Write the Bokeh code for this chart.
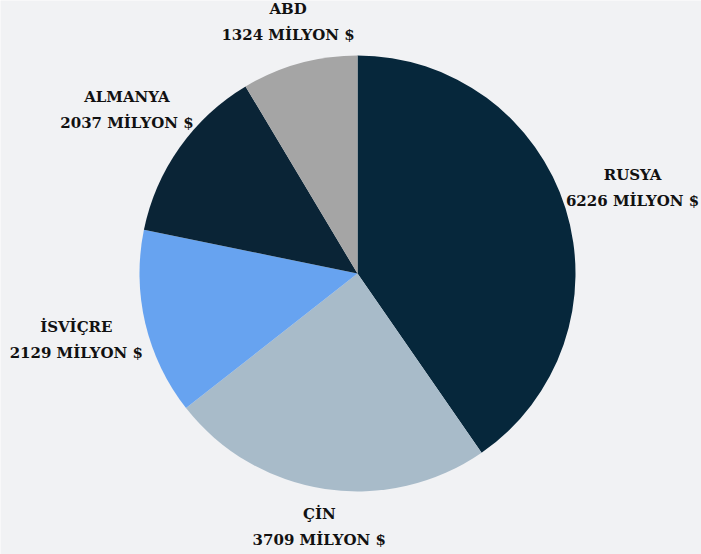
import math
from bokeh.plotting import figure
from bokeh.models import Range1d, ColumnDataSource
from bokeh.core.properties import value
from bokeh.embed import file_html
from bokeh.resources import INLINE

countries = ["RUSYA", "ÇİN", "İSVİÇRE", "ALMANYA", "ABD"]
amounts = [6226, 3709, 2129, 2037, 1324]
colors = ["#06273b", "#a8bbc9", "#67a3f0", "#0a2436", "#a5a5a5"]

W, H = 701, 554
p = figure(width=W, height=H, output_backend="svg", toolbar_location=None,
           x_range=Range1d(0, W), y_range=Range1d(0, H),
           min_border=0)
p.axis.visible = False
p.grid.visible = False
p.outline_line_color = None
p.background_fill_color = "#f1f2f4"
p.border_fill_color = "#f1f2f4"

cx, cy, r = 357, H - 273, 218
total = sum(amounts)
starts, ends, lx, ly, vals = [], [], [], [], []
cum = 0
for a in amounts:
    s = math.pi / 2 - cum / total * 2 * math.pi
    cum += a
    e = math.pi / 2 - cum / total * 2 * math.pi
    starts.append(s)
    ends.append(e)
    m = (s + e) / 2
    R = 250 + 40 * abs(math.cos(m))
    lx.append(cx + R * math.cos(m))
    ly.append(cy + R * math.sin(m))
    vals.append(f"{a} MİLYON $")

src = ColumnDataSource(dict(start=starts, end=ends, color=colors,
                            lx=lx, ly1=[y + 13 for y in ly], ly2=[y - 13 for y in ly],
                            name=countries, val=vals))
p.wedge(x=cx, y=cy, radius=r, start_angle="start", end_angle="end",
        direction="clock", fill_color="color", line_color=None, source=src)

for col in ["name", "val"]:
    p.text(x="lx", y="ly1" if col == "name" else "ly2", text=col, source=src,
           text_font=value("DejaVu Serif"), text_font_style="bold",
           text_font_size="15px", text_color="#111111",
           text_align="center", text_baseline="middle")

open("out.html", "w").write(file_html(p, INLINE))
